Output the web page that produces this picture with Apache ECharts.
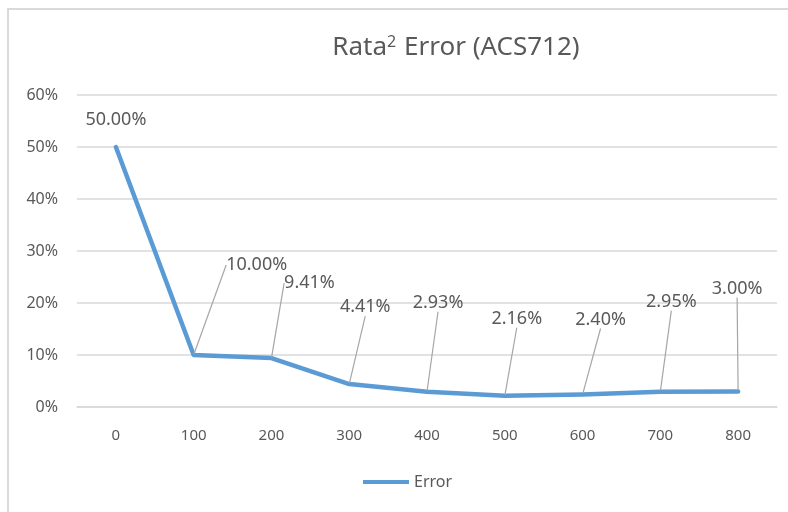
<!DOCTYPE html>
<html>
<head>
<meta charset="utf-8">
<script src="https://cdn.jsdelivr.net/npm/echarts@6/dist/echarts.min.js"></script>
<style>
html,body{margin:0;padding:0;background:#fff;}
#chart{width:788px;height:512px;}
</style>
</head>
<body>
<div id="chart"></div>
<script>
const categories = ['0','100','200','300','400','500','600','700','800'];
const errorValues = [50.00, 10.00, 9.41, 4.41, 2.93, 2.16, 2.40, 2.95, 3.00];
const yTicks = [0, 10, 20, 30, 40, 50, 60];
const seriesName = 'Error';

// label offsets (px) from each point to its label centre
const labelOffsets = [[0,-27],[63,-90],[38,-75],[16,-77],[11,-89],[12,-77],[18,-75],[11,-90],[-1,-103]];

const FONT = '"Noto Sans", "Open Sans", sans-serif';
const TXT = '#595959';

const chart = echarts.init(document.getElementById('chart'), null, {renderer:'canvas'});
chart.setOption({
  animation: false,
  backgroundColor: '#fff',
  graphic: [{
    type: 'rect', silent: true,
    shape: {x: 8, y: 9, width: 800, height: 520},
    style: {fill: 'none', stroke: '#d9d9d9', lineWidth: 2}
  }],
  title: {
    text: 'Rata{sup|2} Error (ACS712)',
    left: 451, textAlign: 'center', top: 29,
    textStyle: {
      fontFamily: FONT, fontSize: 26, fontWeight: 'normal', color: TXT,
      rich: {sup: {fontFamily: FONT, fontSize: 16, color: TXT, verticalAlign: 'top', padding: [0, 1, 12, 0]}}
    }
  },
  legend: {
    data: [seriesName],
    left: 358, top: 469,
    itemWidth: 46, itemHeight: 14, itemGap: 10,
    icon: 'path://M0,5 L46,5 L46,9 L0,9 Z',
    textStyle: {fontFamily: FONT, fontSize: 16, color: TXT}
  },
  grid: {left: 77, right: 11, top: 95, bottom: 105, containLabel: false},
  xAxis: {
    type: 'category', data: categories, boundaryGap: true,
    axisLine: {show: true, lineStyle: {color: '#d9d9d9', width: 1.5}},
    axisTick: {show: false},
    axisLabel: {fontFamily: FONT, fontSize: 15, color: TXT, margin: 21}
  },
  yAxis: {
    type: 'value', min: yTicks[0], max: yTicks[yTicks.length-1], interval: 10,
    axisLine: {show: false}, axisTick: {show: false},
    splitLine: {lineStyle: {color: '#d9d9d9', width: 1.5}},
    axisLabel: {fontFamily: FONT, fontSize: 16, color: TXT, margin: 19, formatter: v => v + '%'}
  },
  series: [{
    name: seriesName, type: 'line',
    data: errorValues.map((v, i) => ({value: v, labelLine: {show: i !== 0}})),
    symbol: 'circle', symbolSize: 2, showSymbol: true,
    lineStyle: {color: '#5b9bd5', width: 4.5, cap: 'round', join: 'round'},
    itemStyle: {color: '#5b9bd5'},
    label: {
      show: true, position: 'top',
      fontFamily: FONT, fontSize: 18, color: TXT,
      formatter: p => p.value.toFixed(2) + '%'
    },
    labelLine: {show: true, lineStyle: {color: '#a6a6a6', width: 1.2}},
    labelLayout: function (params) {
      const o = labelOffsets[params.dataIndex];
      const r = params.rect;
      const cx = r.x + r.width / 2, cy = r.y + r.height / 2;
      return {x: cx + o[0], y: cy + o[1], align: 'center', verticalAlign: 'middle'};
    }
  }]
});
</script>
</body>
</html>
